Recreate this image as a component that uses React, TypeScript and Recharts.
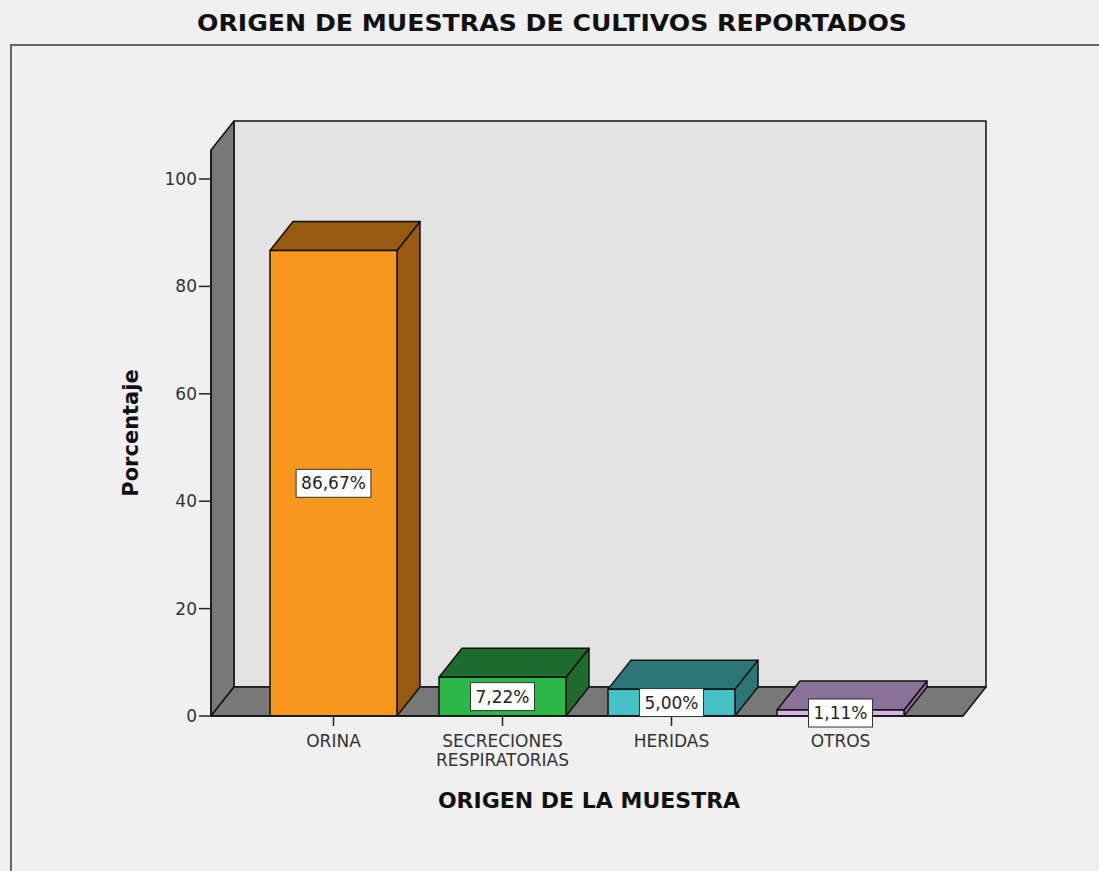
import React from 'react'
import { BarChart, Bar, XAxis, YAxis, ReferenceArea, LabelList } from 'recharts'

const categorias = ['ORINA', 'SECRECIONES\nRESPIRATORIAS', 'HERIDAS', 'OTROS']
const porcentajes = [86.67, 7.22, 5.0, 1.11]
const yTicks = [0, 20, 40, 60, 80, 100]
const Y_MAX = 105.4

const FRONT = ['#f7981d', '#2cb74a', '#44c2c5', '#dab4e8']
const DARK = ['#975a10', '#1d6c2d', '#2d7677', '#8a7197']

// 3D offset (depth) shared by walls and bars
const DX = 23
const DY = 29
const PAD = 38 // x axis padding, walls extend over it
const FONT = '"DejaVu Sans", Verdana, sans-serif'

const data = categorias.map((name, i) => ({ name, value: porcentajes[i] }))

const fmt = (v: number) => v.toFixed(2).replace('.', ',') + '%'

function Box3D(props: any) {
  const { x, y, width: w, height: h, index } = props
  if (w == null || h == null) return null
  const front = FRONT[index % FRONT.length]
  const dark = DARK[index % DARK.length]
  const top = `${x},${y} ${x + DX},${y - DY} ${x + w + DX},${y - DY} ${x + w},${y}`
  const side = `${x + w},${y} ${x + w + DX},${y - DY} ${x + w + DX},${y + h - DY} ${x + w},${y + h}`
  return (
    <g stroke="#111" strokeWidth={1.5} strokeLinejoin="round">
      <polygon points={side} fill={dark} />
      <polygon points={top} fill={dark} />
      <rect x={x} y={y} width={w} height={h} fill={front} />
    </g>
  )
}

function Walls(props: any) {
  const { y, height: h } = props
  if (props.x == null) return null
  const x = props.x - PAD
  const w = props.width + PAD * 2
  const left = `${x},${y} ${x + DX},${y - DY} ${x + DX},${y + h - DY} ${x},${y + h}`
  const floor = `${x},${y + h} ${x + DX},${y + h - DY} ${x + w + DX},${y + h - DY} ${x + w},${y + h}`
  return (
    <g stroke="#111" strokeWidth={1.5} strokeLinejoin="round">
      <rect x={x + DX} y={y - DY} width={w} height={h} fill="#e3e3e3" />
      <polygon points={left} fill="#787878" />
      <polygon points={floor} fill="#787878" />
    </g>
  )
}

function ValueLabel(props: any) {
  const { x, y, width, height, value } = props
  const text = fmt(Number(value))
  const cx = x + width / 2
  const cy = y + height / 2
  let em = 0
  for (const ch of text) em += ch === ',' ? 0.318 : ch === '%' ? 0.95 : 0.636
  const bw = em * 17 + 10
  const bh = 28
  return (
    <g>
      <rect x={cx - bw / 2} y={cy - bh / 2} width={bw} height={bh} fill="#fff" stroke="#333" strokeWidth={1} />
      <text x={cx} y={cy + 6} textAnchor="middle" fontFamily={FONT} fontSize={17} fill="#222">
        {text}
      </text>
    </g>
  )
}

function CategoryTick(props: any) {
  const { x, y, payload } = props
  const lines = String(payload.value).split('\n')
  return (
    <text x={x} y={y} textAnchor="middle" fontFamily={FONT} fontSize={17} fill="#333">
      {lines.map((l, i) => (
        <tspan key={i} x={x} dy={19}>
          {l}
        </tspan>
      ))}
    </text>
  )
}

export default function App() {
  return (
    <div
      style={{
        position: 'absolute',
        left: 0,
        top: 0,
        width: 1099,
        height: 871,
        background: '#f0f0f0',
        overflow: 'hidden',
      }}
    >
      <div
        style={{
          position: 'absolute',
          left: 10,
          top: 44,
          width: 1100,
          height: 840,
          borderTop: '2px solid #666',
          borderLeft: '2px solid #666',
        }}
      />
      <svg width={1099} height={60} style={{ position: 'absolute', left: 0, top: 0 }}>
        <text
          x={552}
          y={31}
          textAnchor="middle"
          textLength={710}
          lengthAdjust="spacingAndGlyphs"
          fontFamily={FONT}
          fontWeight="bold"
          fontSize={23}
          fill="#111"
        >
          ORIGEN DE MUESTRAS DE CULTIVOS REPORTADOS
        </text>
      </svg>
      <div style={{ position: 'absolute', left: 0, top: 0 }}>
        <BarChart
          width={1099}
          height={871}
          data={data}
          margin={{ top: 150, right: 136, bottom: 95, left: 11 }}
        >
          <ReferenceArea y1={0} y2={Y_MAX} shape={<Walls />} ifOverflow="visible" fillOpacity={1} />
          <XAxis
            dataKey="name"
            height={60}
            padding={{ left: PAD, right: PAD }}
            tickSize={10}
            tickMargin={2}
            tickLine={{ stroke: '#222', strokeWidth: 1.5 }}
            axisLine={{ stroke: '#111', strokeWidth: 1.5 }}
            tick={<CategoryTick />}
            interval={0}
            label={{
              value: 'ORIGEN DE LA MUESTRA',
              position: 'insideBottom',
              offset: 0,
              content: () => (
                <text x={589} y={808} textAnchor="middle" fontFamily={FONT} fontWeight="bold" fontSize={22} fill="#111">
                  ORIGEN DE LA MUESTRA
                </text>
              ),
            }}
          />
          <YAxis
            width={200}
            domain={[0, Y_MAX]}
            ticks={yTicks}
            allowDataOverflow
            tickSize={12}
            tickMargin={2}
            tickLine={{ stroke: '#222', strokeWidth: 1.5 }}
            axisLine={{ stroke: '#111', strokeWidth: 1.5 }}
            tick={{ fontFamily: FONT, fontSize: 17, fill: '#333' }}
            label={{
              value: 'Porcentaje',
              content: () => (
                <text
                  x={138}
                  y={433}
                  transform="rotate(-90 138 433)"
                  textAnchor="middle"
                  fontFamily={FONT}
                  fontWeight="bold"
                  fontSize={21}
                  fill="#111"
                >
                  Porcentaje
                </text>
              ),
            }}
          />
          <Bar dataKey="value" barSize={127} shape={<Box3D />} isAnimationActive={false}>
            <LabelList dataKey="value" content={<ValueLabel />} />
          </Bar>
        </BarChart>
      </div>
    </div>
  )
}
